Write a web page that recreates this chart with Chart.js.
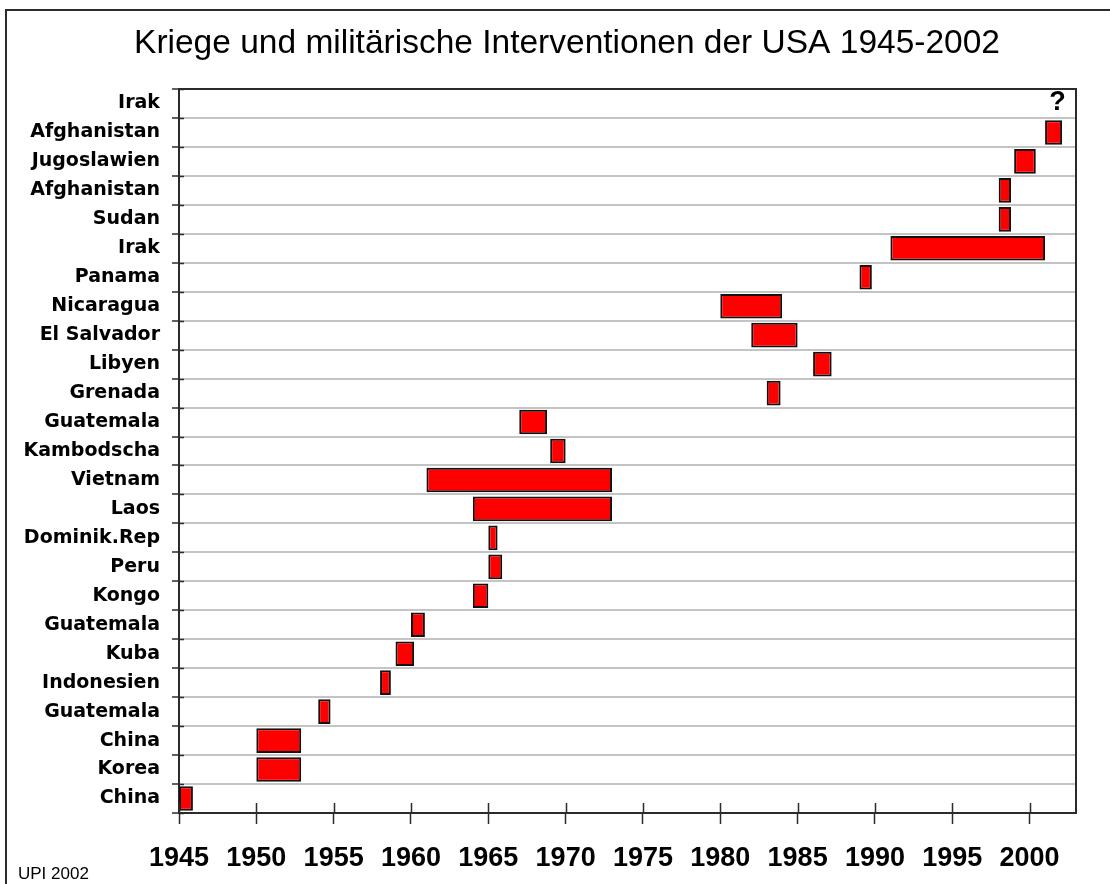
<!DOCTYPE html>
<html>
<head>
<meta charset="utf-8">
<script src="https://cdn.jsdelivr.net/npm/chart.js@4"></script>
<style>
  body { margin: 0; background: #fff; }
  #wrap { width: 1110px; height: 884px; position: relative; }
</style>
</head>
<body>
<div id="wrap"><canvas id="myChart"></canvas></div>
<script>
const ctx = document.getElementById('myChart');

// top to bottom, as in the original
const countries = ['Irak', 'Afghanistan', 'Jugoslawien', 'Afghanistan', 'Sudan', 'Irak', 'Panama',
    'Nicaragua', 'El Salvador', 'Libyen', 'Grenada', 'Guatemala', 'Kambodscha', 'Vietnam', 'Laos',
    'Dominik.Rep', 'Peru', 'Kongo', 'Guatemala', 'Kuba', 'Indonesien', 'Guatemala', 'China', 'Korea', 'China'];
const startYears = [null, 2001, 1999, 1998, 1998, 1991, 1989, 1980, 1982, 1986, 1983, 1967, 1969, 1961,
    1964, 1965, 1965, 1964, 1960, 1959, 1958, 1954, 1950, 1950, 1945];
const endYears = [null, 2002.1, 2000.4, 1998.8, 1998.8, 2001, 1989.8, 1984, 1985, 1987.2, 1983.9, 1968.8,
    1970, 1973, 1973, 1965.6, 1965.9, 1965, 1960.9, 1960.2, 1958.7, 1954.8, 1952.9, 1952.9, 1945.9];
const yearTicks = [1945, 1950, 1955, 1960, 1965, 1970, 1975, 1980, 1985, 1990, 1995, 2000];
const openYear = 2001.8; // where the "?" sits, on the first Irak row

const intervals = startYears.map((s, i) => s === null ? null : [s, endYears[i]]);

const dark = '#2b2b2b';

const decor = {
    id: 'decor',
    beforeDraw(chart) {
        const c = chart.ctx;
        c.save();
        c.fillStyle = '#fff';
        c.fillRect(0, 0, chart.width, chart.height);
        // outer frame (cut off on the right and at the bottom)
        c.strokeStyle = dark;
        c.lineWidth = 2;
        c.beginPath();
        c.moveTo(6, chart.height);
        c.lineTo(6, 10);
        c.lineTo(chart.width, 10);
        c.stroke();
        c.restore();
    },
    afterDraw(chart) {
        const c = chart.ctx;
        const a = chart.chartArea;
        const x = chart.scales.x;
        const y = chart.scales.y;
        c.save();
        c.strokeStyle = dark;
        c.lineWidth = 2;
        c.beginPath();
        c.moveTo(a.left, a.top);
        c.lineTo(a.right + 1, a.top);
        c.stroke();
        // tick marks reach into the plot too
        c.lineWidth = 1.5;
        c.beginPath();
        x.ticks.forEach((t, i) => {
            const px = Math.round(x.getPixelForTick(i)) + 0.5;
            c.moveTo(px, a.bottom - 10);
            c.lineTo(px, a.bottom);
        });
        for (let k = 0; k <= countries.length; k++) {
            const py = Math.round(y.getPixelForValue(k - 0.5)) + 0.5;
            c.moveTo(a.left, py);
            c.lineTo(a.left + 5, py);
        }
        c.stroke();
        // open end for Irak
        c.fillStyle = '#000';
        c.font = 'bold 27px "Liberation Sans", Arial, sans-serif';
        c.textAlign = 'center';
        c.textBaseline = 'middle';
        c.fillText('?', x.getPixelForValue(openYear), y.getPixelForValue(0) - 1);
        c.font = '17px "Liberation Sans", Arial, sans-serif';
        c.textAlign = 'left';
        c.fillText('UPI 2002', 18, 874);
        c.restore();
    }
};

new Chart(ctx, {
    type: 'bar',
    data: {
        labels: countries,
        datasets: [{
            label: 'Interventionen',
            data: intervals,
            backgroundColor: '#ff0000',
            borderColor: '#111',
            borderWidth: 2,
            borderSkipped: false,
            barPercentage: 0.85,
            categoryPercentage: 1.0,
        }]
    },
    options: {
        indexAxis: 'y',
        responsive: true,
        maintainAspectRatio: false,
        animation: false,
        layout: {
            padding: { top: 10, right: 0, left: 24, bottom: 0 }
        },
        plugins: {
            legend: { display: false },
            tooltip: { enabled: false },
            title: {
                display: true,
                text: 'Kriege und militärische Interventionen der USA 1945-2002',
                color: '#000',
                font: { family: '"Liberation Sans", Arial, sans-serif', size: 33.5, weight: 'normal' },
                padding: { top: 14, bottom: 24.8 }
            }
        },
        scales: {
            x: {
                type: 'linear',
                min: 1945,
                max: 2003,
                afterBuildTicks: (scale) => {
                    scale.ticks = yearTicks.map(v => ({ value: v }));
                },
                afterFit: (scale) => { scale.height = 71; },
                ticks: {
                    color: '#000',
                    padding: 18,
                    maxRotation: 0,
                    autoSkip: false,
                    font: { family: '"Liberation Sans", Arial, sans-serif', size: 27, weight: 'bold' },
                    callback: (v) => String(v)
                },
                grid: {
                    drawOnChartArea: false,
                    drawTicks: true,
                    tickLength: 11,
                    tickColor: dark,
                    tickWidth: 1.5
                },
                border: { display: true, color: dark, width: 2 }
            },
            y: {
                afterFit: (scale) => { scale.width = 155; },
                ticks: {
                    color: '#000',
                    padding: 12,
                    autoSkip: false,
                    font: { family: '"DejaVu Sans", sans-serif', size: 19, weight: 'bold' }
                },
                grid: {
                    color: '#c4c4c4',
                    lineWidth: 2,
                    tickLength: 7,
                    tickColor: dark,
                    tickWidth: 1.5
                },
                border: { display: true, color: dark, width: 2 }
            },
            // right frame of the plot
            yRight: {
                type: 'linear',
                position: 'right',
                min: 0,
                max: 1,
                afterFit: (scale) => { scale.width = 34; },
                ticks: { display: false },
                grid: { display: false },
                border: { display: true, color: dark, width: 2 }
            }
        }
    },
    plugins: [decor]
});
</script>
</body>
</html>
